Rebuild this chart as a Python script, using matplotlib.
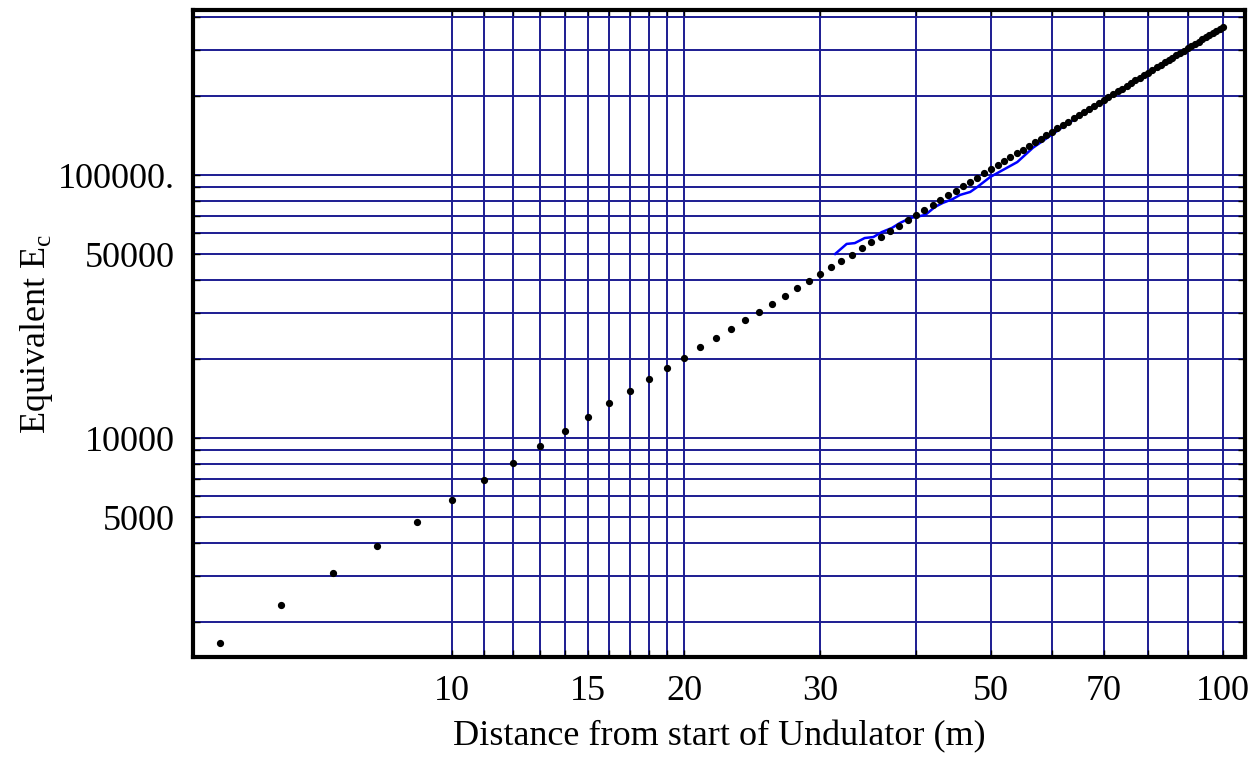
# Plot Ec setara terhadap jarak dari awal undulator (skala log-log)
import matplotlib.pyplot as plt
import numpy as np

plt.rcParams['font.family'] = ['Liberation Serif', 'DejaVu Serif']

# Data titik hitam (jarak 5..100 m)
jarak = list(range(5, 101))
ec_titik = [1669, 2317, 3058, 3889, 4806, 5810, 6898, 8067, 9318, 10650,
            12060, 13540, 15100, 16740, 18450, 20230, 22090, 24020, 26020, 28090,
            30230, 32450, 34730, 37080, 39490, 41980, 44530, 47150, 49830, 52580,
            55400, 58290, 61230, 64250, 67320, 70460, 73660, 76920, 80250, 83640,
            87100, 90610, 94190, 97820, 101500, 105300, 109100, 113000, 116900, 120900,
            125000, 129100, 133300, 137500, 141800, 146200, 150600, 155100, 159600, 164200,
            168800, 173500, 178300, 183100, 188000, 192900, 197900, 203000, 208100, 213200,
            218500, 223700, 229100, 234400, 239900, 245300, 250900, 256500, 262100, 267800,
            273600, 279400, 285300, 291200, 297200, 303200, 309300, 315500, 321700, 328000,
            334300, 340700, 347100, 353600, 360100, 366700]

# Data garis biru
jarak_biru = [31.4, 32.5, 33.3, 34.3, 35.2, 36.1, 37.2, 38.1, 39.3, 41.1,
              42.3, 43.3, 44.6, 45.6, 47.0, 48.0, 49.9, 54.1, 56.7, 59.7,
              62.8, 66.6, 69.3, 76.0, 82.8, 100.0]
ec_biru = [50100, 54700, 55100, 57600, 58100, 60700, 62900, 65700, 68600, 70500,
           75600, 78300, 81000, 84000, 86200, 90000, 98300, 112000, 127000, 141000,
           156500, 173600, 188000, 221000, 261500, 368000]

# Posisi grid dan label sumbu
grid_x = [10, 11, 12, 13, 14, 15, 16, 17, 18, 19, 20, 30, 40, 50, 60, 70, 80, 90, 100]
label_x = {10: '10', 15: '15', 20: '20', 30: '30', 50: '50', 70: '70', 100: '100'}
grid_y = [2000, 3000, 4000, 5000, 6000, 7000, 8000, 9000,
          10000, 20000, 30000, 40000, 50000, 60000, 70000, 80000, 90000,
          100000, 200000, 300000, 400000]
label_y = {5000: '5000', 10000: '10000', 50000: '50000', 100000: '100000.'}

fig = plt.figure(figsize=(12.59, 7.58), dpi=100)
ax = fig.add_axes([0.1533, 0.1332, 0.8356, 0.8536])
ax.set_xscale('log')
ax.set_yscale('log')

ax.plot(jarak_biru, ec_biru, color='#0000ff', lw=1.8, zorder=3)
ax.plot(jarak, ec_titik, 'o', color='black', ms=4.2, zorder=4)

ax.set_xlim(4.614, 106.8)
ax.set_ylim(1470, 424000)

ax.minorticks_off()
ax.set_xticks(grid_x)
ax.set_xticklabels([label_x.get(v, '') for v in grid_x])
ax.set_yticks(grid_y)
ax.set_yticklabels([label_y.get(v, '') for v in grid_y])
ax.minorticks_off()

ax.grid(True, color='#1c1c92', lw=1.4)
ax.set_axisbelow(True)
ax.tick_params(direction='in', length=5, width=1, top=True, right=True,
               labelsize=26)
ax.tick_params(axis='y', pad=13)
ax.tick_params(axis='x', pad=13)
for s in ax.spines.values():
    s.set_linewidth(3)
    s.set_color('black')

ax.set_xlabel('Distance from start of Undulator (m)', fontsize=26, labelpad=9)
ax.set_ylabel('Equivalent E$_\\mathregular{c}$', fontsize=26, labelpad=2)

plt.savefig('out.png', dpi=100)
